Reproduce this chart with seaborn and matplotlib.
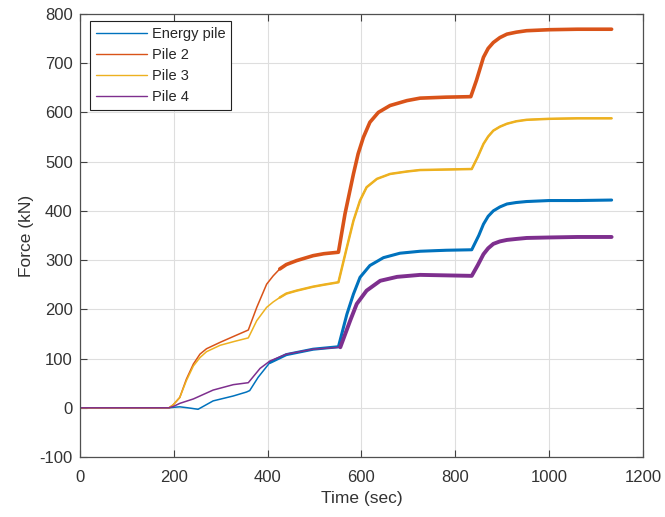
import numpy as np
import pandas as pd
import seaborn as sns
import matplotlib
matplotlib.use("Agg")
import matplotlib.pyplot as plt

# ---- data ----
t_energy = [0, 100, 190, 200, 213, 230, 252, 284, 327, 355, 362, 380, 405, 440, 497, 551,
            569, 583, 597, 618, 647, 682, 725, 780, 835, 850, 860, 870, 881, 895, 910, 930, 952,
            1000, 1060, 1133]
f_energy = [0, 0, 0, 1, 2, 0, -3, 14, 24, 32, 35, 62, 92, 108, 119, 124,
            190, 231, 265, 289, 305, 314, 318, 320, 321, 350, 373, 389, 400, 408, 414, 417, 419,
            421, 421, 422]

t_pile2 = [0, 100, 190, 199, 213, 227, 242, 256, 270, 299, 330, 359, 377, 398, 412, 426, 440, 462,
           497, 520, 551, 565, 583, 593, 604, 618, 636, 661, 697, 725, 780, 833, 845, 860, 870, 881,
           895, 910, 930, 952, 1000, 1060, 1133]
f_pile2 = [0, 0, 0, 6, 21, 58, 89, 109, 120, 133, 146, 158, 204, 251, 268, 282, 291, 299,
           309, 313, 316, 394, 475, 516, 549, 580, 600, 614, 624, 629, 631, 632, 665, 712, 730, 742,
           752, 759, 763, 766, 768, 769, 769]

t_pile3 = [0, 100, 190, 199, 213, 227, 242, 256, 270, 299, 330, 359, 377, 398, 412, 426, 440, 462,
           497, 520, 551, 569, 583, 597, 611, 633, 661, 697, 725, 780, 835, 848, 860, 870, 881, 895,
           910, 930, 952, 1000, 1060, 1133]
f_pile3 = [0, 0, 0, 6, 21, 55, 85, 102, 114, 127, 135, 142, 177, 204, 215, 224, 232, 238,
           246, 250, 255, 326, 380, 421, 448, 465, 475, 480, 483, 484, 485, 510, 536, 551, 563, 571,
           577, 582, 585, 587, 588, 588]

t_pile4 = [0, 100, 190, 200, 213, 242, 249, 284, 327, 359, 384, 405, 440, 497, 555,
           576, 590, 611, 640, 676, 725, 780, 835, 848, 860, 870, 881, 895, 910, 930, 952,
           1000, 1060, 1133]
f_pile4 = [0, 0, 0, 3, 9, 18, 21, 36, 47, 51, 80, 95, 109, 119, 123,
           177, 211, 238, 258, 266, 270, 269, 268, 290, 312, 324, 333, 338, 341, 343, 345,
           346, 347, 347]

series_names = ["Energy pile", "Pile 2", "Pile 3", "Pile 4"]
series_t = [t_energy, t_pile2, t_pile3, t_pile4]
series_f = [f_energy, f_pile2, f_pile3, f_pile4]
colors = ["#0072BD", "#D95319", "#EDB120", "#7E2F8E"]
thick_from = [400, 420, 420, 555]      # noisy (thicker-looking) part of each record
thick_lw = [2.2, 2.6, 1.8, 2.8]

x_ticks = [0, 200, 400, 600, 800, 1000, 1200]
y_ticks = [-100, 0, 100, 200, 300, 400, 500, 600, 700, 800]

# ---- style ----
sns.set_style("white")
plt.rcParams['font.family'] = ['Liberation Sans', 'DejaVu Sans']

fig = plt.figure(figsize=(6.65, 5.17), dpi=100)
ax = fig.add_axes([0.120, 0.116, 0.847, 0.857])

for name, tt, ff, c, tf, lw in zip(series_names, series_t, series_f, colors, thick_from, thick_lw):
    df = pd.DataFrame({"Time": tt, "Force": ff})
    sns.lineplot(data=df, x="Time", y="Force", ax=ax, color=c, lw=1.1,
                 label=name, estimator=None, sort=False,
                 solid_joinstyle="round", solid_capstyle="round")
    sub = df[df["Time"] >= tf]
    sns.lineplot(data=sub, x="Time", y="Force", ax=ax, color=c, lw=lw,
                 estimator=None, sort=False, legend=False,
                 solid_joinstyle="round", solid_capstyle="round")

ax.set_xlim(0, 1200)
ax.set_ylim(-100, 800)
ax.set_xticks(x_ticks)
ax.set_yticks(y_ticks)
ax.set_xticklabels([str(v) for v in x_ticks])
ax.set_yticklabels([str(v) for v in y_ticks])
ax.grid(True, color="#dedede", lw=0.8)
ax.set_axisbelow(True)
ax.tick_params(direction="in", length=5, width=0.8, colors="#404040",
               labelcolor="#333333", labelsize=12, top=True, right=True,
               bottom=True, left=True)
ax.tick_params(axis="x", pad=9)
ax.tick_params(axis="y", pad=5)
for s in ax.spines.values():
    s.set_color("#505050")
    s.set_linewidth(0.9)

ax.set_xlabel("Time (sec)", fontsize=12.5, color="#333333", labelpad=5)
ax.set_ylabel("Force (kN)", fontsize=12.5, color="#333333", labelpad=4)

leg = ax.legend(loc="upper left", bbox_to_anchor=(0.0178, 0.984), fontsize=10.5,
                frameon=True, fancybox=False, edgecolor="#222222", framealpha=1,
                handlelength=3.5, handletextpad=0.34, labelspacing=0.49,
                borderpad=0.41, borderaxespad=0.0)
leg.get_frame().set_linewidth(0.8)
for line in leg.get_lines():
    line.set_linewidth(1.0)

fig.savefig("out.png", dpi=100)
